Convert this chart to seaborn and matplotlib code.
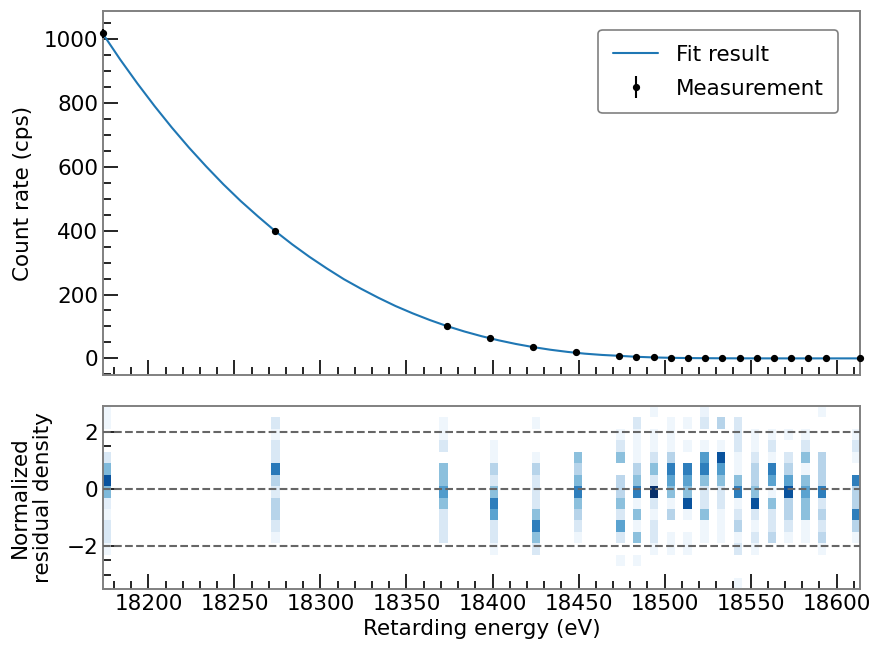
import numpy as np
import pandas as pd
import matplotlib
matplotlib.use("Agg")
import matplotlib.pyplot as plt
from matplotlib.ticker import MultipleLocator
import seaborn as sns

# ---------------- data ----------------
# fit curve samples (retarding energy in eV, count rate in cps)
fit_energy = [18173.6, 18183.6, 18193.6, 18203.6, 18213.6, 18223.6, 18233.6, 18243.6,
              18253.6, 18263.6, 18273.6, 18283.6, 18293.6, 18303.6, 18313.6, 18323.6,
              18333.6, 18343.6, 18353.6, 18363.6, 18373.6, 18383.6, 18393.6, 18403.6,
              18413.6, 18423.6, 18433.6, 18443.6, 18453.6, 18463.6, 18473.6, 18483.6,
              18493.6, 18503.6, 18513.6, 18523.6, 18533.6, 18543.6, 18553.6, 18563.6,
              18573.6, 18613.6]
fit_rate = [1016, 936, 861, 790, 723, 660, 601, 545, 493, 445,
            399, 357, 318, 282, 248, 218, 190, 164, 141, 120,
            101, 84.3, 69.5, 56.5, 45.1, 35.4, 27.1, 20.3, 14.8, 10.8,
            8.0, 5.0, 3.0, 1.8, 1.0, 0.6, 0.3, 0.15, 0.05, 0.0,
            0.0, 0.0]

# measurements
meas_energy = [18173.6, 18273.6, 18373.6, 18398.6, 18423.6, 18448.6, 18473.6, 18483.6,
               18493.6, 18503.6, 18513.6, 18523.6, 18533.6, 18543.6, 18553.6, 18563.6,
               18573.6, 18583.6, 18593.6, 18613.6]
meas_rate = [1018, 399, 101, 63, 36.5, 18.7, 8.4, 5.2, 3.0, 1.5, 1.0, 0.6, 0.4, 0.3,
             0.2, 0.2, 0.1, 0.1, 0.1, 0.1]
meas_err = [14, 5, 2.5, 2.0, 1.5, 1.2, 0.9, 0.8, 0.7, 0.6, 0.5, 0.5, 0.5, 0.5,
            0.5, 0.5, 0.5, 0.5, 0.5, 0.5]

# residual density per measurement (rows from top bin to bottom bin)
residual_centers = [2.7, 2.3, 1.9, 1.5, 1.1, 0.7, 0.3, -0.1, -0.5, -0.9, -1.3, -1.7,
                    -2.1, -2.5, -2.9, -3.3]
residual_density = [
    [4, 4, 0, 0, 15, 45, 87, 45, 10, 4, 15, 15, 4, 0, 0, 0],
    [0, 15, 4, 15, 15, 72, 30, 12, 30, 30, 15, 5, 0, 0, 0, 0],
    [0, 4, 4, 15, 0, 42, 42, 58, 42, 15, 15, 15, 0, 0, 0, 0],
    [0, 0, 0, 4, 4, 30, 15, 42, 70, 55, 15, 15, 4, 0, 0, 0],
    [0, 4, 0, 0, 4, 30, 15, 15, 15, 42, 70, 42, 15, 0, 0, 0],
    [0, 0, 0, 0, 42, 30, 45, 70, 42, 30, 15, 4, 0, 0, 0, 0],
    [0, 0, 4, 15, 42, 0, 28, 28, 42, 15, 55, 15, 0, 4, 0, 0],
    [0, 15, 4, 4, 4, 30, 42, 70, 4, 42, 4, 42, 0, 4, 0, 0],
    [4, 0, 4, 4, 18, 42, 15, 100, 15, 4, 15, 15, 4, 0, 0, 0],
    [0, 4, 4, 4, 30, 70, 55, 42, 4, 30, 0, 4, 4, 0, 0, 0],
    [0, 4, 0, 4, 0, 70, 55, 42, 87, 4, 0, 4, 4, 0, 0, 0],
    [6, 15, 0, 4, 58, 70, 42, 15, 15, 42, 4, 4, 0, 0, 0, 0],
    [0, 30, 0, 4, 87, 58, 42, 15, 15, 4, 4, 4, 0, 0, 0, 0],
    [0, 15, 15, 15, 4, 4, 42, 70, 4, 15, 30, 4, 15, 0, 0, 4],
    [0, 0, 4, 4, 15, 30, 30, 42, 87, 15, 4, 15, 4, 0, 0, 0],
    [0, 0, 4, 15, 4, 70, 55, 4, 42, 15, 15, 28, 0, 0, 0, 0],
    [0, 0, 4, 0, 15, 30, 55, 87, 30, 30, 15, 4, 0, 0, 0, 0],
    [0, 0, 4, 15, 42, 4, 42, 55, 42, 42, 4, 4, 0, 0, 0, 0],
    [4, 0, 0, 0, 30, 30, 30, 70, 15, 30, 15, 28, 4, 0, 0, 0],
    [0, 0, 4, 15, 4, 0, 70, 30, 30, 70, 30, 4, 0, 0, 0, 0],
]
reference_lines = [-2, 0, 2]

# ---------------- styling ----------------
sns.set_style("white")
FS = 15.5
plt.rcParams.update({
    "font.family": ["DejaVu Sans"],
    "font.size": FS,
    "text.color": "black",
    "axes.labelcolor": "black",
    "axes.edgecolor": "0.5",
    "axes.linewidth": 1.4,
    "xtick.direction": "in",
    "ytick.direction": "in",
    "xtick.major.size": 11,
    "ytick.major.size": 11,
    "xtick.minor.size": 5.5,
    "ytick.minor.size": 5.5,
    "xtick.major.width": 1.2,
    "ytick.major.width": 1.2,
    "xtick.minor.width": 1.2,
    "ytick.minor.width": 1.2,
    "xtick.color": "black",
    "ytick.color": "black",
    "xtick.labelcolor": "black",
    "ytick.labelcolor": "black",
    "xtick.labelsize": FS,
    "ytick.labelsize": FS,
    "axes.labelsize": FS,
    "legend.fontsize": FS,
})

fig = plt.figure(figsize=(8.75, 6.5), dpi=100)
ax_top = fig.add_axes([0.1177, 0.4231, 0.8652, 0.5600])
ax_bot = fig.add_axes([0.1177, 0.0938, 0.8652, 0.2816], sharex=ax_top)

# ---- top panel ----
fit_df = pd.DataFrame({"energy": fit_energy, "rate": fit_rate})
sns.lineplot(data=fit_df, x="energy", y="rate", ax=ax_top, color="#1f77b4",
             linewidth=1.5, label="Fit result")
ax_top.errorbar(meas_energy, meas_rate, yerr=meas_err, fmt="o", color="black",
                markersize=4.2, elinewidth=1.5, capsize=0, label="Measurement",
                zorder=3, clip_on=False)
ax_top.set_ylim(-52, 1088)
ax_top.set_ylabel("Count rate (cps)")
ax_top.set_xlabel("")
ax_top.yaxis.set_major_locator(MultipleLocator(200))
ax_top.yaxis.set_minor_locator(MultipleLocator(50))
ax_top.tick_params(labelbottom=False)
leg = ax_top.legend(loc="upper right", bbox_to_anchor=(0.971, 0.948),
                    borderaxespad=0, frameon=True, fancybox=True,
                    edgecolor="0.5", framealpha=1, labelspacing=0.65,
                    borderpad=0.68, handlelength=2.1, handletextpad=0.8)
leg.get_frame().set_linewidth(1.2)

# ---- bottom panel ----
rows = []
for e, col in zip(meas_energy, residual_density):
    for c, v in zip(residual_centers, col):
        if v > 0:
            rows.append((e, c, v))
res_df = pd.DataFrame(rows, columns=["energy", "residual", "density"])
x_edges = np.linspace(min(meas_energy), max(meas_energy), 91)
y_edges = np.arange(-3.5, 2.9001, 0.4)
sns.histplot(data=res_df, x="energy", y="residual", weights="density",
             bins=[x_edges, y_edges], cmap="Blues", vmin=0, vmax=100,
             ax=ax_bot)
for yv in reference_lines:
    ax_bot.axhline(yv, color="0.4", linestyle="--", linewidth=1.5, zorder=3)
ax_bot.set_ylim(-3.5, 2.9)
ax_bot.set_xlim(min(meas_energy), max(meas_energy))
ax_bot.set_xlabel("Retarding energy (eV)")
ax_bot.set_ylabel("Normalized\nresidual density")
ax_bot.yaxis.set_major_locator(MultipleLocator(2))
ax_bot.yaxis.set_minor_locator(MultipleLocator(0.5))
ax_bot.xaxis.set_major_locator(MultipleLocator(50))
ax_bot.xaxis.set_minor_locator(MultipleLocator(10))

for ax in (ax_top, ax_bot):
    ax.tick_params(which="both", top=False, right=False, left=True, bottom=True)
    for s in ax.spines.values():
        s.set_visible(True)
        s.set_color("0.5")
        s.set_linewidth(1.4)

ax_top.yaxis.set_label_coords(-0.0925, 0.5)
ax_bot.yaxis.set_label_coords(-0.066, 0.5)

fig.savefig("out.png", dpi=100)
